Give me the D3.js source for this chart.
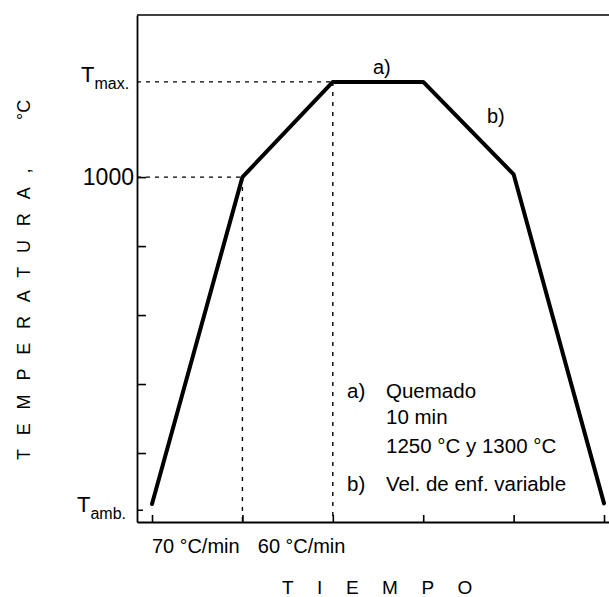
<!DOCTYPE html>
<html><head><meta charset="utf-8">
<script src="https://cdn.jsdelivr.net/npm/d3@7"></script>
<style>
body{margin:0;background:#fff}
text{font-family:"Liberation Sans",Arial,sans-serif;fill:#000}
</style>
</head><body>
<svg id="c" width="609" height="597"></svg>
<script>
// ---- data ----
const timeTicks = [0, 1, 2, 3, 4, 5];
const profileTime = [0, 1, 2, 3, 4, 5];
const profileTemp = [526, 1000, 1138, 1138, 1004, 527];
const tempTicks = [600, 700, 800, 900, 1000];
const T_MAX = 1138, T_AMB = 517;
const rateLabels = [["70 ", "°", "C/min"], ["60 ", "°", "C/min"]];
const rateLabelPos = [0, 1.17];
const legendLines = [
  {tag: "a)", text: "Quemado"},
  {tag: "", text: "10 min"},
  {tag: "", text: "1250 °C y 1300 °C"},
  {tag: "b)", text: "Vel. de enf. variable"}
];

const svg = d3.select("#c");
const x = d3.scaleLinear().domain([-0.166, 5.055]).range([137, 609]);
const y = d3.scaleLinear().domain([500, 1235]).range([522, 15]);

// frame
svg.append("line").attr("x1", x(-0.166)).attr("x2", 609).attr("y1", y(1235)).attr("y2", y(1235))
  .attr("stroke", "#000").attr("stroke-width", 1.6);

// axes
const xAxis = d3.axisBottom(x).tickValues(timeTicks).tickSizeInner(-7).tickSizeOuter(0).tickFormat("");
const gx = svg.append("g").attr("transform", `translate(0,${y(500)})`).call(xAxis);
const yAxis = d3.axisLeft(y).tickValues(tempTicks).tickSizeInner(-9).tickSizeOuter(0).tickFormat("");
const gy = svg.append("g").attr("transform", `translate(${x(-0.166)},0)`).call(yAxis);
[gx, gy].forEach(g => {
  g.select(".domain").attr("stroke", "#000").attr("stroke-width", 1.8);
  g.selectAll(".tick line").attr("stroke", "#000").attr("stroke-width", 1.6);
});
// Tamb tick
svg.append("line").attr("x1", x(-0.166)).attr("x2", x(-0.166) + 6)
  .attr("y1", y(T_AMB)).attr("y2", y(T_AMB)).attr("stroke", "#000").attr("stroke-width", 1.5);

// dashed guides
const dash = svg.append("g").attr("stroke", "#000").attr("stroke-width", 1.4).attr("fill", "none");
dash.append("line").attr("x1", x(-0.166)).attr("x2", x(1)).attr("y1", y(1000)).attr("y2", y(1000)).attr("stroke-dasharray", "4,5");
dash.append("line").attr("x1", x(1)).attr("x2", x(1)).attr("y1", y(1000)).attr("y2", y(500)).attr("stroke-dasharray", "4,6");
dash.append("line").attr("x1", x(-0.166)).attr("x2", x(2)).attr("y1", y(T_MAX)).attr("y2", y(T_MAX)).attr("stroke-dasharray", "4,5");
dash.append("line").attr("x1", x(2)).attr("x2", x(2)).attr("y1", y(T_MAX)).attr("y2", y(500)).attr("stroke-dasharray", "4,6");

// profile line
const line = d3.line().x((d, i) => x(profileTime[i])).y(d => y(d));
svg.append("path").datum(profileTemp).attr("d", line)
  .attr("fill", "none").attr("stroke", "#000").attr("stroke-width", 4)
  .attr("stroke-linejoin", "round").attr("stroke-linecap", "round");

// y labels
const tmax = svg.append("text").attr("x", 81).attr("y", y(T_MAX)).attr("font-size", 22);
tmax.append("tspan").text("T");
tmax.append("tspan").attr("font-size", 16).attr("dy", 7).text("max.");
svg.append("text").attr("x", 134).attr("y", y(1000) + 8).attr("text-anchor", "end").attr("font-size", 23).text("1000");
const tamb = svg.append("text").attr("x", 77).attr("y", y(T_AMB) + 2).attr("font-size", 22);
tamb.append("tspan").text("T");
tamb.append("tspan").attr("font-size", 16).attr("dy", 7).text("amb.");

// rate labels
rateLabels.forEach((parts, i) => {
  const t = svg.append("text").attr("x", x(rateLabelPos[i])).attr("y", 553).attr("font-size", 20);
  t.append("tspan").text(parts[0]);
  t.append("tspan").attr("font-size", 19).attr("dy", -1).text(parts[1]);
  t.append("tspan").attr("dy", 1).text(parts[2]);
});

// segment labels
svg.append("text").attr("x", 373).attr("y", 74).attr("font-size", 20).text("a)");
svg.append("text").attr("x", 487).attr("y", 123).attr("font-size", 20).text("b)");

// legend
const legY = [398, 424, 453, 491];
legendLines.forEach((d, i) => {
  if (d.tag) svg.append("text").attr("x", 347).attr("y", legY[i]).attr("font-size", 20.5).text(d.tag);
  svg.append("text").attr("x", 386).attr("y", legY[i]).attr("font-size", 20.5).text(d.text);
});

// axis titles
svg.append("text").attr("x", 282).attr("y", 594).attr("font-size", 19)
  .attr("letter-spacing", 23.5).text("TIEMPO");
svg.append("text").attr("transform", "translate(30,460) rotate(-90)").attr("font-size", 18)
  .attr("letter-spacing", 13.8).text("TEMPERATURA,");
svg.append("text").attr("transform", "translate(30,120) rotate(-90)").attr("font-size", 18)
  .text("°C");
</script>
</body></html>
